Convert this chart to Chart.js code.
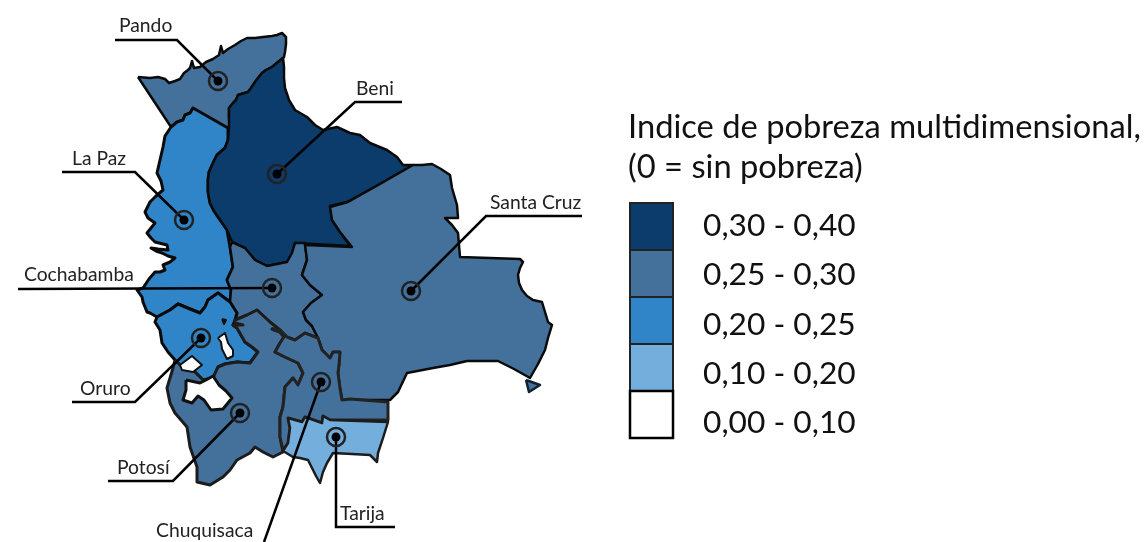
<!DOCTYPE html>
<html><head><meta charset="utf-8">
<style>html,body{margin:0;padding:0;background:#fff}canvas{display:block}</style>
<script src="https://cdn.jsdelivr.net/npm/chart.js@4"></script>
</head><body><canvas id="c" width="1147" height="542"></canvas>
<script>
const pando=[[138,77],[150,78],[158,77],[165,79],[169,83],[175,81],[180,79],[184,73],[188,70],[190,68],[192,61],[194,68],[200,67],[206,62],[213,59],[219,55],[221,46],[223,53],[228,49],[235,45],[241,41],[247,38],[255,38],[263,37],[272,36],[277,35],[282,33],[286,37],[286,44],[285,52],[284,57],[278,62],[272,67],[266,70],[262,73],[258,78],[255,82],[251,88],[248,92],[238,95],[236,100],[233,103],[229,108],[229,118],[230,128],[227,128],[193,108],[190,113],[185,115],[183,120],[177,122],[171,127]];
const laPaz=[[171,127],[177,122],[183,120],[185,115],[190,113],[193,108],[228,128],[228,140],[225,148],[217,155],[213,163],[209,172],[208,180],[208,192],[210,203],[214,211],[218,217],[227,230],[230,247],[233,267],[227,280],[231,290],[230,302],[218,293],[208,300],[205,307],[200,313],[190,309],[178,304],[170,310],[157,317],[150,313],[147,312],[143,302],[142,297],[137,290],[143,288],[149,279],[155,272],[160,272],[165,270],[163,265],[170,262],[175,258],[168,256],[162,253],[156,251],[151,248],[158,249],[168,250],[167,245],[155,242],[151,238],[147,233],[151,228],[155,223],[148,218],[145,212],[150,202],[155,197],[163,190],[161,181],[157,173],[160,160],[163,147],[165,136]];
const beni=[[283,58],[284,67],[284,78],[285,88],[289,100],[295,110],[307,117],[315,125],[323,130],[337,127],[350,133],[360,135],[370,143],[387,150],[397,157],[403,165],[413,165],[380,184],[347,202],[330,206],[332,220],[340,232],[350,246],[295,243],[292,253],[287,262],[267,266],[255,260],[245,248],[232,242],[227,230],[218,217],[214,211],[210,203],[208,192],[208,180],[209,172],[213,163],[217,155],[225,148],[228,140],[229,128],[229,118],[229,108],[233,103],[236,100],[238,95],[248,92],[251,88],[255,82],[258,78],[262,73],[266,70],[272,67],[278,62]];
const cochabamba=[[232,242],[245,248],[255,260],[267,266],[287,262],[292,253],[295,243],[305,243],[307,260],[302,275],[310,285],[322,295],[311,303],[303,312],[306,320],[312,326],[318,338],[305,333],[295,340],[287,337],[280,330],[270,322],[257,310],[247,315],[235,320],[237,313],[230,302],[231,290],[227,280],[233,267],[230,247]];
const oruro=[[157,317],[170,310],[178,304],[190,309],[200,313],[205,307],[208,300],[218,293],[230,302],[237,313],[235,320],[233,325],[237,328],[245,342],[252,347],[258,352],[250,363],[237,362],[225,364],[218,367],[213,378],[203,380],[193,370],[183,368],[175,360],[168,352],[162,343],[160,330],[155,322]];
const potosi=[[175,360],[183,368],[193,370],[203,380],[213,378],[218,367],[225,364],[237,362],[250,363],[258,352],[252,347],[245,342],[237,328],[233,325],[243,325],[235,323],[235,320],[247,315],[257,310],[270,322],[280,330],[272,329],[280,332],[284,337],[280,343],[275,352],[285,357],[298,363],[303,373],[298,385],[293,378],[285,387],[284,397],[283,407],[280,417],[280,437],[283,452],[273,457],[263,452],[255,447],[250,453],[237,460],[230,470],[223,477],[210,485],[197,482],[197,467],[190,447],[187,427],[175,413],[170,403],[167,388],[170,378],[173,368]];
const chuquisaca=[[272,329],[280,330],[287,337],[295,340],[305,333],[318,338],[322,350],[330,358],[333,352],[340,352],[339,365],[338,373],[340,388],[342,400],[350,399],[388,402],[388,420],[330,420],[323,416],[322,423],[305,417],[302,422],[288,418],[290,428],[288,443],[283,450],[280,437],[280,417],[283,407],[284,397],[285,387],[293,378],[298,385],[303,373],[298,363],[285,357],[275,352],[280,343],[284,337],[280,332]];
const tarija=[[288,418],[302,422],[305,417],[322,423],[323,416],[330,420],[388,422],[383,438],[378,453],[377,462],[370,455],[352,454],[333,453],[327,463],[323,472],[320,483],[316,476],[313,470],[308,460],[300,458],[293,457],[283,451],[288,443],[290,428]];
const santaCruz=[[413,165],[422,165],[432,164],[441,169],[450,175],[452,188],[457,205],[458,218],[445,218],[452,225],[458,233],[459,245],[460,257],[490,258],[520,259],[523,262],[520,268],[518,275],[519,283],[522,290],[527,296],[533,300],[542,302],[545,312],[548,322],[552,325],[548,338],[545,350],[538,364],[530,378],[514,369],[498,361],[467,361],[450,365],[433,368],[407,373],[398,392],[390,400],[342,400],[340,388],[338,373],[339,365],[340,352],[333,352],[330,358],[322,350],[318,338],[312,326],[306,320],[303,312],[311,303],[322,295],[310,285],[302,275],[307,260],[305,245],[352,247],[340,232],[332,220],[330,207],[348,202],[380,184]];
const southEastTip=[[526,380],[540,385],[529,392]];
const lakeUyuni=[[186,380],[200,383],[206,380],[213,376],[219,385],[226,391],[232,398],[223,409],[211,410],[204,400],[198,396],[192,403],[183,400],[186,390]];
const lakeCoipasa=[[180,365],[192,356],[202,365],[193,372],[182,370]];
const lakePoopo=[[218,338],[225,333],[228,343],[233,350],[233,356],[227,359],[222,349],[221,342]];
const lakeSmall=[[222,319],[226,320],[224,324]];

const regionNames=["Pando","Beni","La Paz","Cochabamba","Oruro","Potosí","Santa Cruz","Chuquisaca","Tarija"];
const regionMarkersX=[218,277,184,272,201,240,411,321,336];
const regionMarkersY=[81,174,220,288,338,413,291,382,437];
const labelX=[119,356,72,24,80,117,490,156,340];
const labelY=[32,95,165,281,395,474,209,537,520];
const leaderPando=[[115,40],[177,40],[218,81]];
const leaderBeni=[[402,102],[355,102],[277,174]];
const leaderLaPaz=[[62,172],[135,172],[184,220]];
const leaderCochabamba=[[18,289],[272,288]];
const leaderOruro=[[72,402],[135,402],[201,338]];
const leaderPotosi=[[108,481],[173,481],[240,413]];
const leaderSantaCruz=[[582,216],[486,216],[411,291]];
const leaderChuquisaca=[[321,382],[264,542]];
const leaderTarija=[[336,437],[336,527],[395,527]];

const legendTitle=["Indice de pobreza multidimensional,","(0 = sin pobreza)"];
const legendClasses=["0,30 - 0,40","0,25 - 0,30","0,20 - 0,25","0,10 - 0,20","0,00 - 0,10"];
const classColors=["#0c3c6b","#44719c","#2f85c8","#74aedc","#ffffff"];

const pts=a=>a.map(([x,y])=>({x,y}));
const closed=a=>pts(a.concat([a[0]]));
const poly=(name,a,fill,bw=2.5,col="#0a0a0a")=>({label:name,data:closed(a),showLine:true,pointRadius:0,borderColor:col,borderWidth:bw,polyFill:fill,borderJoinStyle:"round",tension:0});
const seq=[
 poly("Pando",pando,classColors[1]),
 poly("La Paz",laPaz,classColors[2],3),
 poly("Beni",beni,classColors[0]),
 poly("Cochabamba",cochabamba,classColors[1]),
 poly("Oruro",oruro,classColors[2],3),
 poly("Potosí",potosi,classColors[1],3,"#1c1c1c"),
 poly("Santa Cruz",santaCruz,classColors[1]),
 poly("Chuquisaca",chuquisaca,classColors[1],3,"#222"),
 poly("Tarija",tarija,classColors[3],2.5,"#1c1c1c"),
 poly("Tip",southEastTip,classColors[1],2.5,"#123"),
 poly("Uyuni",lakeUyuni,"#fff",3,"#111"),
 poly("Coipasa",lakeCoipasa,"#fff",2,"#111"),
 poly("Poopó",lakePoopo,"#fff",2,"#111"),
 poly("small",lakeSmall,"#111",2,"#111"),
];
for(const l of [leaderPando,leaderBeni,leaderLaPaz,leaderCochabamba,leaderOruro,leaderPotosi,leaderSantaCruz,leaderChuquisaca,leaderTarija]){
 seq.push({label:"leader",data:pts(l),showLine:true,pointRadius:0,borderColor:"#000",borderWidth:2.5,tension:0});
}
const markers=regionMarkersX.map((x,i)=>({x,y:regionMarkersY[i]}));
seq.push({label:"ring",data:markers,showLine:false,pointRadius:9,pointBackgroundColor:"transparent",pointBorderColor:"#222",pointBorderWidth:2.5});
seq.push({label:"dot",data:markers,showLine:false,pointRadius:4.5,pointBackgroundColor:"#000",pointBorderColor:"#000",pointBorderWidth:0});
seq.forEach((d,i)=>{d.order=seq.length-i;});

const polyFillPlugin={id:"polyFill",beforeDatasetDraw(chart,args){
 const ds=chart.data.datasets[args.index];
 if(!ds.polyFill)return;
 const els=args.meta.data,ctx=chart.ctx;
 ctx.save();ctx.beginPath();
 els.forEach((e,i)=>i?ctx.lineTo(e.x,e.y):ctx.moveTo(e.x,e.y));
 ctx.closePath();ctx.fillStyle=ds.polyFill;ctx.fill();ctx.restore();
}};
const textPlugin={id:"texts",afterDatasetsDraw(chart){
 const ctx=chart.ctx,sx=chart.scales.x,sy=chart.scales.y;
 ctx.save();ctx.textAlign="left";ctx.textBaseline="alphabetic";ctx.fillStyle="#222";
 ctx.font='19.3px Lato';
 regionNames.forEach((n,i)=>ctx.fillText(n,sx.getPixelForValue(labelX[i]),sy.getPixelForValue(labelY[i])));
 ctx.fillStyle="#111";ctx.font='32.7px Lato';
 ctx.fillText(legendTitle[0],628,138);ctx.fillText(legendTitle[1],628,178);
 const y0=203,h=47;
 ctx.font='31.7px Lato';
 legendClasses.forEach((t,i)=>{
  ctx.fillStyle=classColors[i];ctx.fillRect(630,y0+i*h,43,h);
  ctx.strokeStyle=i==4?"#000":"#222";ctx.lineWidth=i==4?2.5:2;ctx.strokeRect(630,y0+i*h,43,h);
  ctx.fillStyle="#111";ctx.fillText(t,703,236+i*49.25);
 });
 ctx.restore();
}};
new Chart(document.getElementById("c"),{type:"scatter",data:{datasets:seq},plugins:[polyFillPlugin,textPlugin],
 options:{responsive:false,animation:false,layout:{padding:0,autoPadding:false},
  plugins:{legend:{display:false},tooltip:{enabled:false},title:{display:false}},
  scales:{x:{type:"linear",display:false,min:0,max:1147},y:{type:"linear",display:false,min:0,max:542,reverse:true}}}});
</script></body></html>
